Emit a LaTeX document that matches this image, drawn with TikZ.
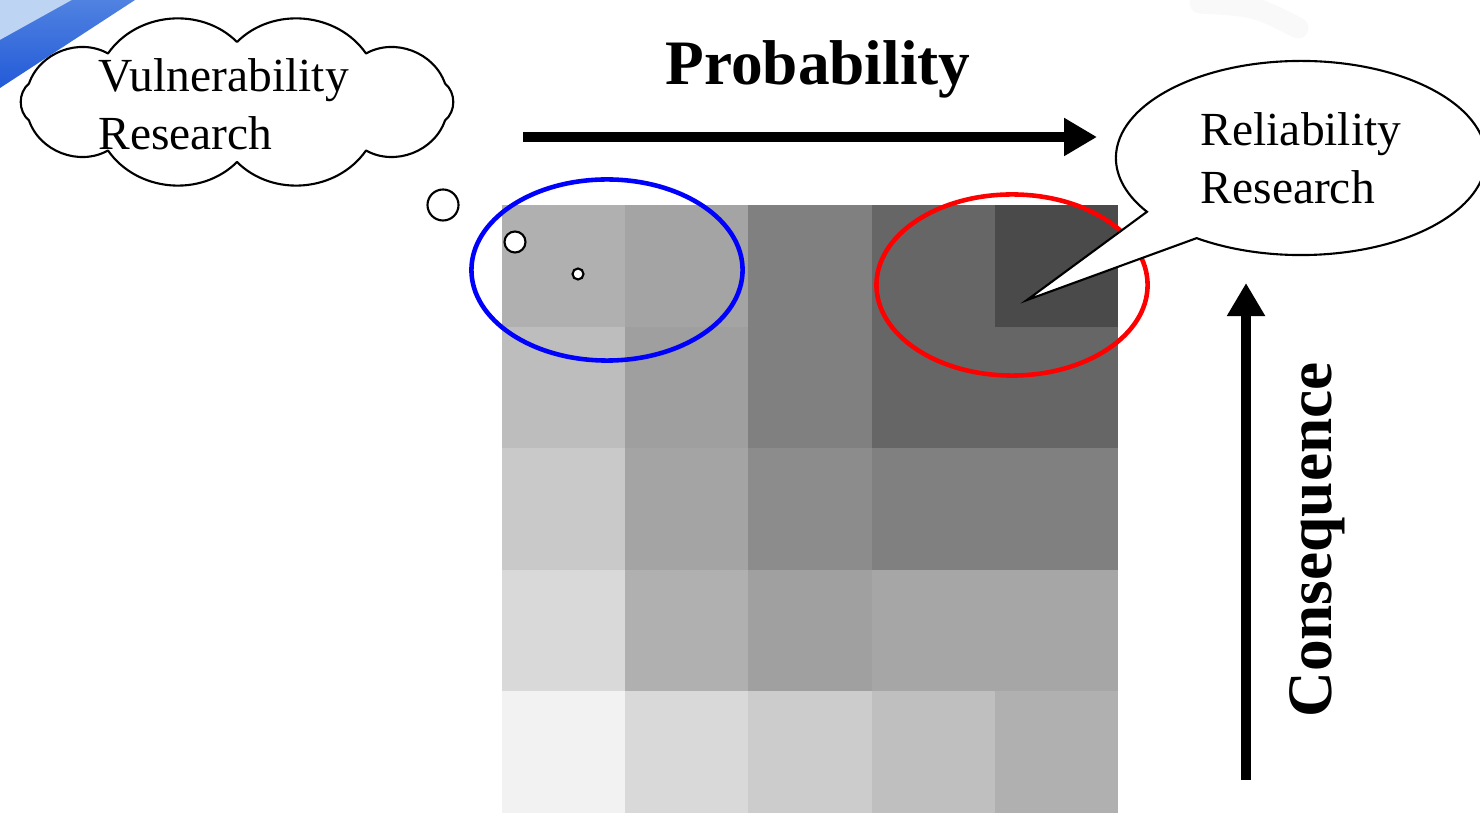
\documentclass[tikz,border=0pt]{standalone}
\usepackage{fontspec}
\setmainfont{Liberation Serif}
\usetikzlibrary{positioning, arrows.meta, shapes.geometric, shapes.callouts}

\definecolor{swooshblue}{RGB}{35,90,215}
\definecolor{swooshmid}{RGB}{80,130,225}
\definecolor{swooshpale}{RGB}{190,212,243}

\begin{document}
\begin{tikzpicture}[
    x=0.01cm, y=-0.01cm,
    every node/.style={align=left},
    puffline/.style={draw, fill=white, line width=0.6pt, line join=round},
    speech/.style={ellipse callout, draw, line width=0.6pt, fill=white,
                   font=\fontsize{13.5}{16.5}\selectfont},
    bubble/.style={circle, draw, line width=0.6pt, fill=white, inner sep=0pt},
    ring/.style={ellipse, draw, line width=1.3pt,
                 minimum width=2.71cm, minimum height=1.81cm},
    axislabel/.style={font=\fontsize{18}{20}\selectfont\bfseries},
    bigarr/.style={line width=3.1pt, -{Triangle[length=0.33cm, width=0.36cm]}}
]
\useasboundingbox (0,0) rectangle (1480,813);

% slide background
\fill[swooshpale] (0,0) -- (75,0) -- (0,42) -- cycle;
\shade[top color=swooshmid, bottom color=swooshblue]
    (0,40) -- (72,0) -- (135,0) -- (0,88) -- cycle;
\draw[gray!5, line width=6pt, line cap=round] (1200,3) .. controls (1255,6) .. (1298,28);

% risk matrix, top row first
\foreach \vals [count=\r from 0] in {{176,164,128,102,74},{189,159,128,102,102},
        {201,164,140,128,128},{217,176,160,166,166},{242,217,204,191,176}} {
  \foreach \v [count=\c from 0] in \vals {
    \definecolor{cellc}{RGB}{\v,\v,\v}
    \fill[cellc] (502+\c*123.2, 205+\r*121.6) rectangle ++(123.2, 121.6);
  }
}

\node[ring, draw=blue] (vulnring) at (607,270) {};
\node[ring, draw=red] (relring) at (1012,285) {};

\node[bubble, minimum size=0.31cm] (b1) at (443,205) {};
\node[bubble, minimum size=0.21cm] (b2) at (515,242) {};
\node[bubble, minimum size=0.11cm] (b3) at (578,274) {};

% thought cloud
\path[puffline] (237,42) to[bend left=50] (366,53.5) to[bend left=50] (445,83.5)
    to[bend left=50] (445,120.5) to[bend left=50] (366,150.5) to[bend left=50] (237,162)
    to[bend left=50] (108,150.5) to[bend left=50] (29,120.5) to[bend left=50] (29,83.5)
    to[bend left=50] (108,53.5) to[bend left=50] (237,42);
\node[anchor=west, font=\fontsize{13.5}{16.5}\selectfont] (vulntext) at (86,104)
    {Vulnerability\\Research};

\node[speech, minimum width=3.7cm, minimum height=1.94cm,
      callout absolute pointer={(1027,300)}, callout pointer arc=22] (relcallout) at (1301,158)
    {Reliability\\Research\hspace*{0.16cm}};

\node[axislabel] (prob) at (818,69) {Probability};
\node[axislabel, rotate=90] (cons) at (1317,540) {Consequence};

\coordinate (pstart) at (523,137);
\coordinate (pend) at (1097,137);
\coordinate (cstart) at (1246,780);
\coordinate (cend) at (1246,283);
\draw[bigarr] (pstart) -- (pend);
\draw[bigarr] (cstart) -- (cend);
\end{tikzpicture}
\end{document}
